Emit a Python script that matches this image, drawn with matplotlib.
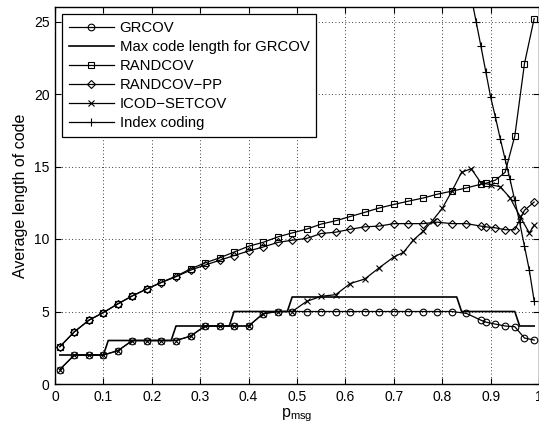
import matplotlib
matplotlib.use("Agg")
import matplotlib.pyplot as plt

plt.rcParams['font.family'] = ['Liberation Sans', 'DejaVu Sans']
plt.rcParams['mathtext.default'] = 'regular'

# message probability grid used by the GRCOV / RANDCOV runs
p_msg = [0.01, 0.04, 0.07, 0.10, 0.13, 0.16, 0.19, 0.22, 0.25, 0.28,
         0.31, 0.34, 0.37, 0.40, 0.43, 0.46, 0.49, 0.52, 0.55, 0.58,
         0.61, 0.64, 0.67, 0.70, 0.73, 0.76, 0.79, 0.82, 0.85, 0.88,
         0.89, 0.91, 0.93, 0.95, 0.97, 0.99]

grcov = [1.0, 2.0, 2.0, 2.0, 2.3, 3.0, 3.0, 3.0, 3.0, 3.3,
         4.0, 4.0, 4.0, 4.0, 4.85, 5.0, 5.0, 5.0, 5.0, 5.0,
         5.0, 5.0, 5.0, 5.0, 5.0, 5.0, 5.0, 5.0, 4.87, 4.4,
         4.27, 4.13, 4.0, 3.95, 3.17, 3.03]

randcov = [2.57, 3.6, 4.4, 4.93, 5.53, 6.08, 6.56, 7.02, 7.43, 7.94,
           8.35, 8.7, 9.1, 9.5, 9.77, 10.14, 10.42, 10.68, 11.03, 11.26,
           11.55, 11.84, 12.14, 12.38, 12.61, 12.82, 13.09, 13.3, 13.52, 13.78,
           13.84, 14.06, 14.6, 17.1, 22.1, 25.2]

randcov_pp = [2.57, 3.6, 4.4, 4.93, 5.53, 6.08, 6.56, 7.0, 7.4, 7.85,
              8.2, 8.53, 8.86, 9.17, 9.45, 9.76, 9.92, 10.04, 10.38, 10.47,
              10.67, 10.84, 10.89, 11.06, 11.06, 11.06, 11.16, 11.06, 11.06, 10.89,
              10.84, 10.77, 10.64, 10.64, 11.98, 12.55]

# upper bound on the GRCOV code length (step curve)
max_p = [0.01, 0.10, 0.11, 0.24, 0.25, 0.36, 0.37, 0.48, 0.49, 0.83,
         0.84, 0.95, 0.96, 0.99]
max_len = [2, 2, 3, 3, 4, 4, 5, 5, 6, 6,
           5, 5, 4, 4]

icod_p = [0.01, 0.04, 0.07, 0.10, 0.13, 0.16, 0.19, 0.22, 0.25, 0.28,
          0.31, 0.34, 0.37, 0.40, 0.43, 0.46, 0.49, 0.52, 0.55, 0.58,
          0.61, 0.64, 0.67, 0.70, 0.72, 0.74, 0.76, 0.78, 0.80, 0.82,
          0.84, 0.86, 0.88, 0.90, 0.92, 0.94, 0.96, 0.98, 0.99]
icod_setcov = [1.0, 2.0, 2.0, 2.0, 2.3, 3.0, 3.0, 3.0, 3.0, 3.3,
               4.0, 4.0, 4.0, 4.0, 4.85, 5.0, 5.0, 5.7, 6.05, 6.16,
               6.93, 7.24, 8.02, 8.76, 9.08, 9.91, 10.52, 11.27, 12.11, 13.3,
               14.6, 14.85, 13.87, 13.75, 13.6, 12.85, 11.6, 10.42, 10.94]

index_p = [0.85, 0.86, 0.87, 0.88, 0.89, 0.90, 0.91, 0.92, 0.93, 0.94,
           0.95, 0.96, 0.97, 0.98, 0.99]
index_coding = [28.7, 26.7, 25.0, 23.3, 21.55, 19.8, 18.4, 16.9, 15.5, 14.13,
                12.66, 11.15, 9.5, 7.85, 5.73]

fig = plt.figure(figsize=(5.39, 4.34), dpi=100)
ax = fig.add_axes([55 / 539, 50 / 434, 484 / 539, 377 / 434])

lw = 0.9
mew = 0.8
ax.plot(p_msg, grcov, 'k-', marker='o', ms=4.8, mfc='none', mew=mew, lw=lw, label='GRCOV')
ax.plot(max_p, max_len, 'k-', lw=lw + 0.3, label='Max code length for GRCOV')
ax.plot(p_msg, randcov, 'k-', marker='s', ms=4.6, mfc='none', mew=mew, lw=lw, label='RANDCOV')
ax.plot(p_msg, randcov_pp, 'k-', marker='D', ms=3.6, mfc='none', mew=mew, lw=lw, label='RANDCOV\u2212PP')
ax.plot(icod_p, icod_setcov, 'k-', marker='x', ms=3.8, mew=mew, lw=lw, label='ICOD\u2212SETCOV')
ax.plot(index_p, index_coding, 'k-', marker='+', ms=5.5, mew=mew, lw=lw, label='Index coding')

ax.set_xlim(0, 1)
ax.set_ylim(0, 26)
ax.set_xticks([0, 0.1, 0.2, 0.3, 0.4, 0.5, 0.6, 0.7, 0.8, 0.9, 1])
ax.set_xticklabels(['0', '0.1', '0.2', '0.3', '0.4', '0.5', '0.6', '0.7', '0.8', '0.9', '1'])
ax.set_yticks([0, 5, 10, 15, 20, 25])
ax.tick_params(direction='in', top=True, right=True, length=4, width=0.8,
               labelsize=10, pad=4)
ax.grid(True, color='k', linestyle=(0, (1, 3)), linewidth=0.6)
for s in ax.spines.values():
    s.set_linewidth(1.0)

ax.set_xlabel(r'p$_{msg}$', fontsize=11.5, labelpad=2)
ax.set_ylabel('Average length of code', fontsize=11.5, labelpad=4)

leg = ax.legend(loc='upper left', numpoints=1, fontsize=10.7, fancybox=False,
                edgecolor='k', framealpha=1, handlelength=3.0, handletextpad=0.4,
                borderpad=0.45, labelspacing=0.34, borderaxespad=0.5)
leg.get_frame().set_linewidth(0.9)

fig.savefig('out.png', dpi=100)
